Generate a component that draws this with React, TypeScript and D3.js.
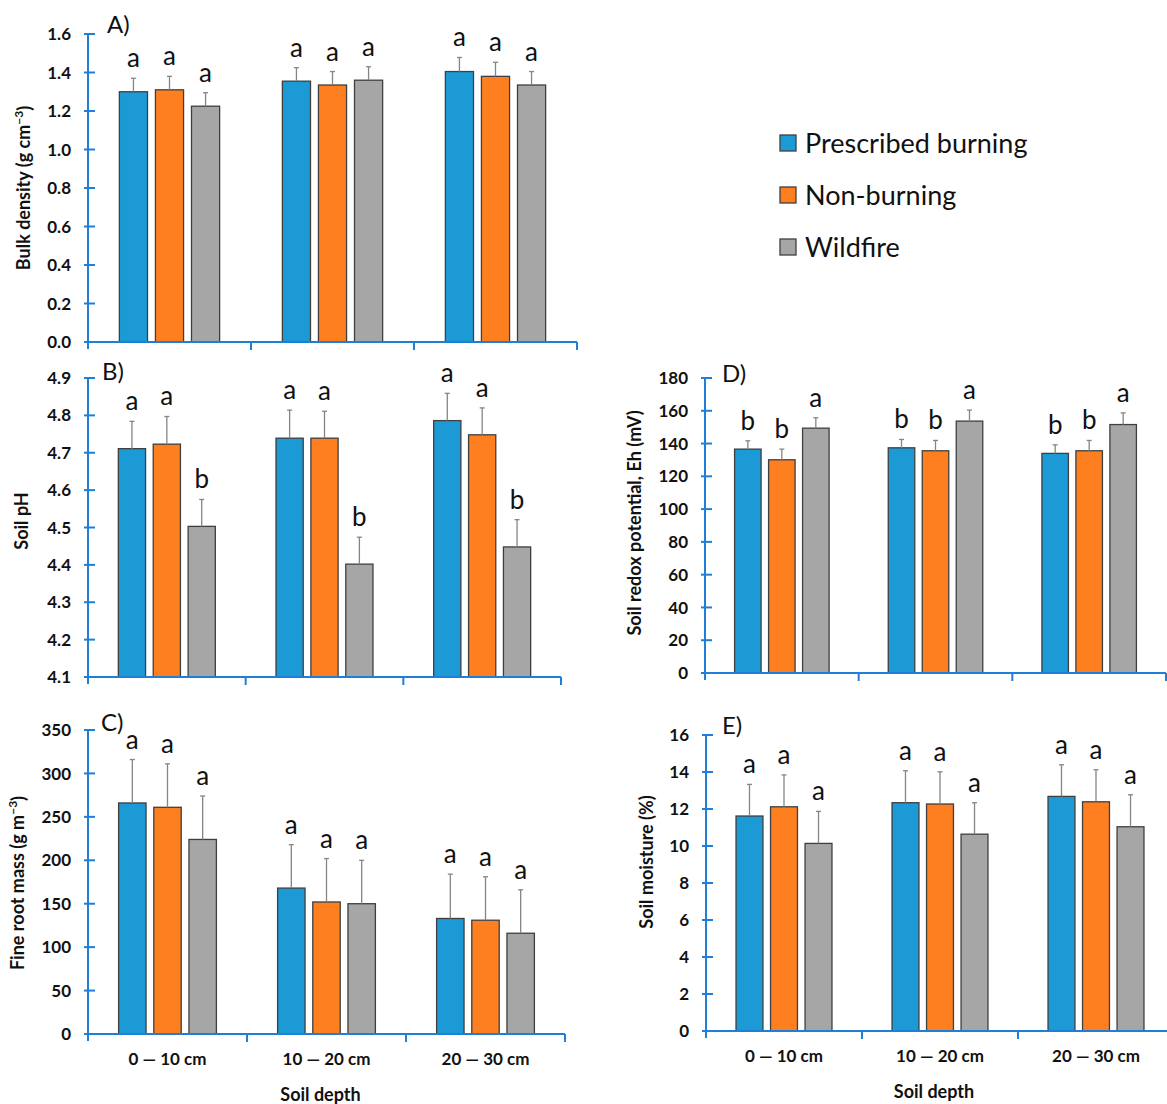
import React, { useEffect, useRef } from 'react';
import * as d3 from 'd3';

// categories
const depths = ['0 — 10 cm', '10 — 20 cm', '20 — 30 cm'];
const treatments = ['Prescribed burning', 'Non-burning', 'Wildfire'];
const treatmentColors = ['#1b9ad6', '#fd7f20', '#a6a6a6'];

// A) bulk density, rows = depth, cols = treatment
const bulkDensity = [[1.30, 1.31, 1.225], [1.355, 1.335, 1.36], [1.405, 1.38, 1.335]];
const bulkDensityErr = [[0.07, 0.07, 0.07], [0.07, 0.07, 0.07], [0.073, 0.073, 0.07]];
const bulkDensityLetters = [['a', 'a', 'a'], ['a', 'a', 'a'], ['a', 'a', 'a']];

// B) soil pH
const soilPh = [[4.711, 4.723, 4.503], [4.739, 4.739, 4.402], [4.786, 4.748, 4.448]];
const soilPhErr = [[0.073, 0.074, 0.072], [0.075, 0.072, 0.072], [0.073, 0.072, 0.073]];
const soilPhLetters = [['a', 'a', 'b'], ['a', 'a', 'b'], ['a', 'a', 'b']];

// C) fine root mass
const rootMass = [[266, 261, 224], [168, 152, 150], [133, 131, 116]];
const rootMassErr = [[50, 50, 50], [50, 50, 50], [51, 50, 50]];
const rootMassLetters = [['a', 'a', 'a'], ['a', 'a', 'a'], ['a', 'a', 'a']];

// D) redox potential
const redox = [[136.6, 130.1, 149.4], [137.4, 135.6, 153.7], [134, 135.6, 151.6]];
const redoxErr = [[5.1, 6.5, 6.3], [5.1, 6.3, 6.7], [5.2, 6.3, 7.1]];
const redoxLetters = [['b', 'b', 'a'], ['b', 'b', 'a'], ['b', 'b', 'a']];

// E) soil moisture
const moisture = [[11.62, 12.12, 10.14], [12.34, 12.27, 10.64], [12.68, 12.39, 11.04]];
const moistureErr = [[1.71, 1.72, 1.73], [1.73, 1.74, 1.7], [1.71, 1.73, 1.73]];
const moistureLetters = [['a', 'a', 'a'], ['a', 'a', 'a'], ['a', 'a', 'a']];

const FONT = 'Lato, "Open Sans", sans-serif';
const AXIS = '#1f7fd8';

const panels = [
  { tag: 'A)', values: bulkDensity, errs: bulkDensityErr, letters: bulkDensityLetters,
    domain: [0, 1.6], ticks: 8, fmt: '.1f', title: ['Bulk density (g cm', '−3', ')'],
    x0: 88, xEnd: 577, yTop: 34, yBot: 342, tagX: 107, tagY: 33, titleX: 24, titleY: 188, xLabels: false },
  { tag: 'B)', values: soilPh, errs: soilPhErr, letters: soilPhLetters,
    domain: [4.1, 4.9], ticks: 8, fmt: '.1f', title: ['Soil pH'],
    x0: 88, xEnd: 561, yTop: 378, yBot: 677, tagX: 102, tagY: 380, titleX: 22, titleY: 521, xLabels: false },
  { tag: 'C)', values: rootMass, errs: rootMassErr, letters: rootMassLetters,
    domain: [0, 350], ticks: 7, fmt: 'd', title: ['Fine root mass (g m', '−3', ')'],
    x0: 88, xEnd: 565, yTop: 730, yBot: 1034, tagX: 101, tagY: 731, titleX: 18, titleY: 883, xLabels: true },
  { tag: 'D)', values: redox, errs: redoxErr, letters: redoxLetters,
    domain: [0, 180], ticks: 9, fmt: 'd', title: ['Soil redox potential, Eh (mV)'],
    x0: 705, xEnd: 1166, yTop: 378, yBot: 673, tagX: 722, tagY: 382, titleX: 635, titleY: 523, xLabels: false },
  { tag: 'E)', values: moisture, errs: moistureErr, letters: moistureLetters,
    domain: [0, 16], ticks: 8, fmt: 'd', title: ['Soil moisture (%)'],
    x0: 706, xEnd: 1174, yTop: 735, yBot: 1031, tagX: 722, tagY: 734, titleX: 647, titleY: 862, xLabels: true },
];

const App = () => {
  const svgRef = useRef(null);

  useEffect(() => {
    const svg = d3.select(svgRef.current);
    svg.selectAll('*').remove();

    panels.forEach(p => {
      const g = svg.append('g');
      const x = d3.scaleBand().domain(depths).range([p.x0, p.xEnd]);
      const xi = d3.scaleBand().domain(treatments).range([0, x.bandwidth()])
        .paddingInner(0.22).paddingOuter(0.87);
      const y = d3.scaleLinear().domain(p.domain).range([p.yBot, p.yTop]);
      const fmt = d3.format(p.fmt);

      // bars, error bars, letters
      depths.forEach((dep, di) => {
        treatments.forEach((tr, ti) => {
          const v = p.values[di][ti];
          const e = p.errs[di][ti];
          const bx = x(dep) + xi(tr);
          const bw = xi.bandwidth();
          const cx = bx + bw / 2;
          g.append('rect')
            .attr('x', bx).attr('y', y(v))
            .attr('width', bw).attr('height', y(p.domain[0]) - y(v))
            .attr('fill', treatmentColors[ti])
            .attr('stroke', '#3f3f3f').attr('stroke-width', 1.3);
          g.append('line')
            .attr('x1', cx).attr('x2', cx).attr('y1', y(v)).attr('y2', y(v + e))
            .attr('stroke', '#858585').attr('stroke-width', 1.3);
          g.append('line')
            .attr('x1', cx - 2.5).attr('x2', cx + 2.5).attr('y1', y(v + e)).attr('y2', y(v + e))
            .attr('stroke', '#858585').attr('stroke-width', 1.3);
          g.append('text')
            .attr('x', cx).attr('y', y(v + e) - 11)
            .attr('text-anchor', 'middle')
            .attr('font-family', FONT).attr('font-size', 26).attr('fill', '#111')
            .text(p.letters[di][ti]);
        });
      });

      // y axis with cross ticks
      g.append('line')
        .attr('x1', p.x0).attr('x2', p.x0).attr('y1', p.yTop).attr('y2', p.yBot + 7)
        .attr('stroke', AXIS).attr('stroke-width', 2);
      y.ticks(p.ticks).forEach(t => {
        g.append('line')
          .attr('x1', p.x0 - 4).attr('x2', p.x0 + 7).attr('y1', y(t)).attr('y2', y(t))
          .attr('stroke', AXIS).attr('stroke-width', 2);
        g.append('text')
          .attr('x', p.x0 - 17).attr('y', y(t)).attr('dy', '0.36em')
          .attr('text-anchor', 'end')
          .attr('font-family', FONT).attr('font-weight', 700).attr('font-size', 17).attr('fill', '#111')
          .text(fmt(t));
      });

      // x axis
      g.append('line')
        .attr('x1', p.x0 - 4).attr('x2', p.xEnd).attr('y1', p.yBot).attr('y2', p.yBot)
        .attr('stroke', AXIS).attr('stroke-width', 2);
      depths.forEach(dep => {
        const xr = x(dep) + x.bandwidth();
        g.append('line')
          .attr('x1', xr).attr('x2', xr).attr('y1', p.yBot).attr('y2', p.yBot + 8)
          .attr('stroke', AXIS).attr('stroke-width', 2);
        if (p.xLabels) {
          g.append('text')
            .attr('x', x(dep) + x.bandwidth() / 2).attr('y', p.yBot + 31)
            .attr('text-anchor', 'middle')
            .attr('font-family', FONT).attr('font-weight', 700).attr('font-size', 17).attr('fill', '#111')
            .text(dep);
        }
      });
      if (p.xLabels) {
        g.append('text')
          .attr('x', p.x0 + (x.bandwidth() * 3) / 2 - 6).attr('y', p.yBot + 67)
          .attr('text-anchor', 'middle')
          .attr('font-family', FONT).attr('font-weight', 700).attr('font-size', 18).attr('fill', '#111')
          .text('Soil depth');
      }

      // y title
      const tt = g.append('text')
        .attr('transform', `translate(${p.titleX},${p.titleY}) rotate(-90)`)
        .attr('dy', '0.35em')
        .attr('text-anchor', 'middle')
        .attr('font-family', FONT).attr('font-weight', 700).attr('font-size', 18).attr('fill', '#111');
      tt.append('tspan').text(p.title[0]);
      if (p.title.length > 1) {
        tt.append('tspan').attr('font-size', 12).attr('dy', '-0.6em').text(p.title[1]);
        tt.append('tspan').attr('dy', '0.45em').text(p.title[2]);
      }

      // panel tag
      g.append('text')
        .attr('x', p.tagX).attr('y', p.tagY)
        .attr('font-family', FONT).attr('font-size', 24).attr('fill', '#111')
        .text(p.tag);
    });

    // legend
    const leg = svg.append('g');
    treatments.forEach((tr, i) => {
      const cy = 143 + i * 52;
      leg.append('rect')
        .attr('x', 780).attr('y', cy - 8).attr('width', 16).attr('height', 16)
        .attr('fill', treatmentColors[i]).attr('stroke', '#3f3f3f').attr('stroke-width', 1.3);
      leg.append('text')
        .attr('x', 805).attr('y', cy + 10)
        .attr('font-family', FONT).attr('font-size', 27).attr('fill', '#111')
        .text(tr);
    });
  }, []);

  return (
    <svg ref={svgRef} width={1167} height={1104}
      style={{ position: 'absolute', left: 0, top: 0, background: '#fff' }} />
  );
};

export default App;
